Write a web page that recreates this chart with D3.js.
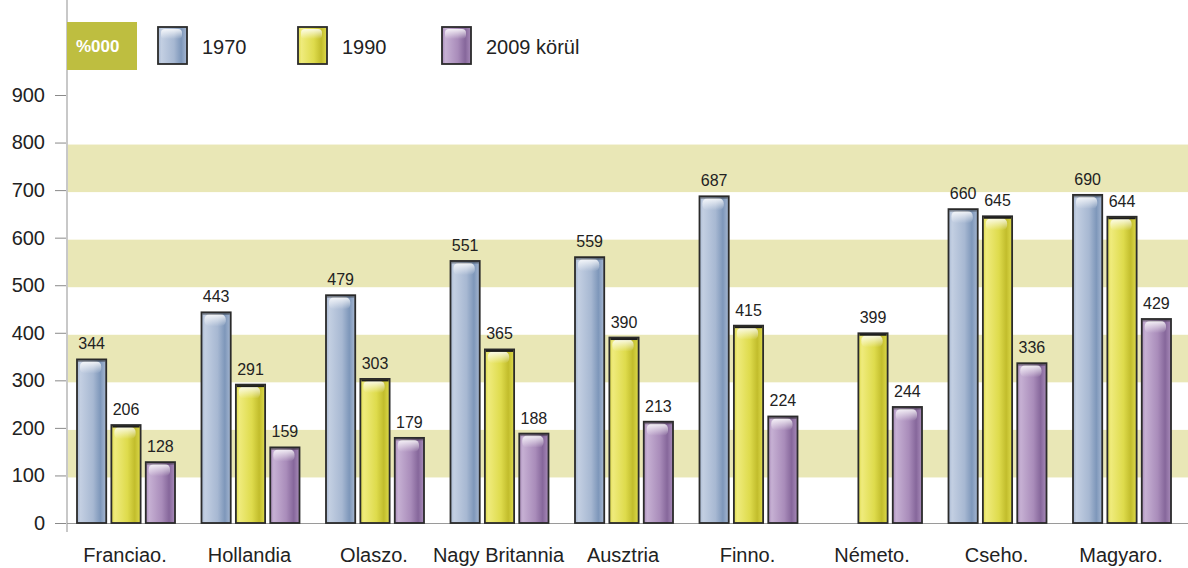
<!DOCTYPE html>
<html lang="hu">
<head>
<meta charset="utf-8">
<title>%000</title>
<script src="https://cdn.jsdelivr.net/npm/d3@7/dist/d3.min.js"></script>
<style>
  body { margin: 0; background: #fff; }
  text { font-family: "Liberation Sans", Arial, sans-serif; fill: #222; }
</style>
</head>
<body>
<script>
var categories = ["Franciao.", "Hollandia", "Olaszo.", "Nagy Britannia", "Ausztria", "Finno.", "Németo.", "Cseho.", "Magyaro."];
var seriesNames = ["1970", "1990", "2009 körül"];
var v1970 = [344, 443, 479, 551, 559, 687, null, 660, 690];
var v1990 = [206, 291, 303, 365, 390, 415, 399, 645, 644];
var v2009 = [128, 159, 179, 188, 213, 224, 244, 336, 429];
var yTicks = [0, 100, 200, 300, 400, 500, 600, 700, 800, 900];
var bands = [[100, 200], [300, 400], [500, 600], [700, 800]];

var w = 1188, h = 568;
var series = [v1970, v1990, v2009];
var colors = [
  ["#c3cfe2", "#a7b8d2", "#7e97ba"],
  ["#efeb7c", "#dedb4c", "#c2bd2c"],
  ["#c6b0d3", "#a98cba", "#86679b"]
];

var svg = d3.select("body").append("svg")
  .attr("width", w).attr("height", h);

var defs = svg.append("defs");
colors.forEach(function(c, i) {
  var g = defs.append("linearGradient").attr("id", "grad" + i)
    .attr("x1", "0").attr("x2", "1").attr("y1", "0").attr("y2", "0");
  g.append("stop").attr("offset", "0").attr("stop-color", c[1]);
  g.append("stop").attr("offset", "0.12").attr("stop-color", c[0]);
  g.append("stop").attr("offset", "0.55").attr("stop-color", c[1]);
  g.append("stop").attr("offset", "0.8").attr("stop-color", c[2]);
  g.append("stop").attr("offset", "1").attr("stop-color", c[1]);
});
var hl = defs.append("linearGradient").attr("id", "shine")
  .attr("x1", "0").attr("x2", "0").attr("y1", "0").attr("y2", "1");
hl.append("stop").attr("offset", "0").attr("stop-color", "#fff").attr("stop-opacity", 0.85);
hl.append("stop").attr("offset", "1").attr("stop-color", "#fff").attr("stop-opacity", 0);

var y = d3.scaleLinear().domain([0, 900]).range([523, 95]);
var x0 = d3.scaleBand().domain(categories).range([67, 67 + 9 * 124.5]);
var x1 = d3.scaleBand().domain(seriesNames).range([10, 108]).paddingInner(0.15);

// background bands
svg.append("g").selectAll("rect").data(bands).enter().append("rect")
  .attr("x", 67).attr("width", w - 67)
  .attr("y", function(d) { return y(d[1]) + 2; })
  .attr("height", function(d) { return y(d[0]) - y(d[1]); })
  .attr("fill", "#e9e7b6");

// y axis
var yAxis = svg.append("g").attr("transform", "translate(67,0)")
  .call(d3.axisLeft(y).tickValues(yTicks).tickSize(12).tickPadding(10));
yAxis.select(".domain").remove();
yAxis.selectAll("line").attr("stroke", "#8a8a8a");
yAxis.selectAll("text").style("font-size", "20px").attr("fill", "#222");
svg.append("line").attr("x1", 67).attr("x2", 67).attr("y1", 0).attr("y2", 532)
  .attr("stroke", "#c8c8c8").attr("stroke-width", 2);
svg.append("line").attr("x1", 67).attr("x2", w).attr("y1", 523.5).attr("y2", 523.5)
  .attr("stroke", "#9a9a9a").attr("stroke-width", 1);

// bars
var groups = svg.append("g").selectAll("g").data(categories).enter().append("g")
  .attr("transform", function(d) { return "translate(" + x0(d) + ",0)"; });

groups.each(function(cat, ci) {
  var g = d3.select(this);
  var rows = seriesNames.map(function(s, si) { return {s: s, si: si, v: series[si][ci]}; })
    .filter(function(d) { return d.v != null; });
  var bar = g.selectAll("g.bar").data(rows).enter().append("g").attr("class", "bar");
  bar.append("rect")
    .attr("x", function(d) { return x1(d.s); })
    .attr("y", function(d) { return y(d.v); })
    .attr("width", x1.bandwidth())
    .attr("height", function(d) { return y(0) - y(d.v); })
    .attr("fill", function(d) { return "url(#grad" + d.si + ")"; })
    .attr("stroke", "#2b2b2b").attr("stroke-width", 1.8);
  bar.append("rect")
    .attr("x", function(d) { return x1(d.s) + 3; })
    .attr("y", function(d) { return y(d.v) + 2; })
    .attr("width", x1.bandwidth() - 8)
    .attr("height", 12).attr("rx", 5)
    .attr("fill", "url(#shine)");
  bar.append("rect")
    .attr("x", function(d) { return x1(d.s) + 1; })
    .attr("y", function(d) { return y(d.v) + 0.5; })
    .attr("width", x1.bandwidth() - 2).attr("height", 2)
    .attr("fill", "#1e1e1e").attr("opacity", function(d) { return d.si === 1 ? 1 : 0.4; });
  bar.append("text")
    .attr("x", function(d) { return x1(d.s) + x1.bandwidth() / 2; })
    .attr("y", function(d) { return y(d.v) - 10; })
    .attr("text-anchor", "middle")
    .style("font-size", "16px")
    .text(function(d) { return d.v; });
});

// category labels
svg.append("g").selectAll("text").data(categories).enter().append("text")
  .attr("x", function(d) { return x0(d) + 58; })
  .attr("y", 562)
  .attr("text-anchor", "middle")
  .style("font-size", "20px")
  .text(function(d) { return d; });

// legend
svg.append("rect").attr("x", 67).attr("y", 22).attr("width", 70).attr("height", 48)
  .attr("fill", "#bebe40");
svg.append("text").attr("x", 76).attr("y", 52)
  .style("font-size", "17px").style("font-weight", "bold").style("fill", "#fff")
  .text("%000");
var legendX = [158, 298, 442];
var leg = svg.append("g").selectAll("g").data(seriesNames).enter().append("g")
  .attr("transform", function(d, i) { return "translate(" + legendX[i] + ",27)"; });
leg.append("rect").attr("width", 29).attr("height", 37)
  .attr("fill", function(d, i) { return "url(#grad" + i + ")"; })
  .attr("stroke", "#2b2b2b").attr("stroke-width", 1.8);
leg.append("rect").attr("x", 3).attr("y", 2).attr("width", 21).attr("height", 10).attr("rx", 4)
  .attr("fill", "url(#shine)");
leg.append("text").attr("x", 44).attr("y", 27)
  .style("font-size", "20px")
  .text(function(d) { return d; });
</script>
</body>
</html>
